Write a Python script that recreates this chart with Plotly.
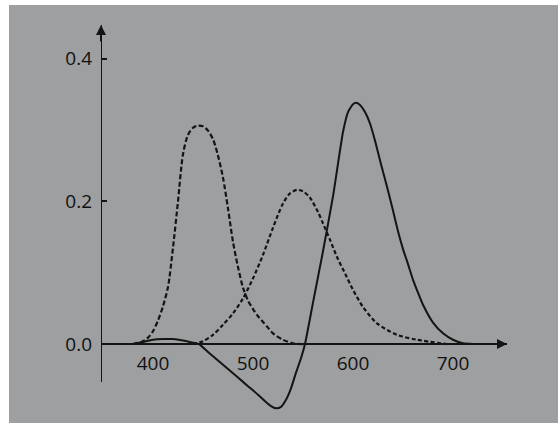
import plotly.graph_objects as go

# wavelength (nm) / tristimulus values
wl_b = [380, 390, 395, 400, 405, 410, 415, 420, 425, 430, 435, 440, 445, 450, 455, 460, 465, 470,
        475, 480, 485, 490, 495, 500, 505, 510, 515, 520, 530, 540, 550]
b_val = [0.0, 0.004, 0.009, 0.018, 0.033, 0.053, 0.08, 0.135, 0.2, 0.266, 0.293, 0.303, 0.306, 0.305,
         0.299, 0.287, 0.264, 0.233, 0.19, 0.143, 0.108, 0.079, 0.061, 0.049, 0.039, 0.031, 0.023,
         0.015, 0.006, 0.001, 0.0]

wl_g = [440, 450, 460, 470, 480, 490, 500, 510, 520, 530, 537, 544, 550, 557, 565, 570, 577, 584,
        592, 600, 610, 624, 644, 664, 694]
g_val = [0.0, 0.004, 0.013, 0.027, 0.043, 0.064, 0.092, 0.125, 0.163, 0.197, 0.211, 0.216, 0.214,
         0.205, 0.185, 0.169, 0.146, 0.122, 0.099, 0.076, 0.052, 0.029, 0.013, 0.006, 0.0]

wl_r = [380, 390, 400, 410, 420, 430, 440, 446, 455, 465, 475, 485, 495, 505, 512, 518, 523,
        528, 533, 538, 543, 548, 552, 560, 570, 580, 590, 595, 600, 603, 607, 612, 617, 622, 628,
        635, 640, 645, 650, 655, 660, 665, 670, 680, 690, 700, 710, 720]
r_val = [0.0, 0.003, 0.006, 0.007, 0.007, 0.005, 0.002, 0.0, -0.011, -0.023, -0.035, -0.047, -0.059,
         -0.071, -0.08, -0.087, -0.09, -0.088, -0.078, -0.062, -0.04, -0.02, 0.0, 0.058,
         0.13, 0.207, 0.297, 0.325, 0.336, 0.338, 0.335, 0.325, 0.309, 0.285, 0.252, 0.215, 0.187,
         0.158, 0.133, 0.112, 0.09, 0.072, 0.055, 0.03, 0.015, 0.006, 0.001, 0.0]

x_ticks = [400, 500, 600, 700]
y_ticks = [0.0, 0.2, 0.4]
y_tick_text = ["0.0", "0.2", "0.4"]

INK = "#141414"
BG = "#9d9fa0"

fig = go.Figure()
fig.add_trace(go.Scatter(x=wl_b, y=b_val, mode="lines", line=dict(color=INK, width=2.2, dash="5px,2.5px",
                         shape="spline", smoothing=0.8), hoverinfo="skip"))
fig.add_trace(go.Scatter(x=wl_g, y=g_val, mode="lines", line=dict(color=INK, width=2.2, dash="4px,2.5px",
                         shape="spline", smoothing=0.8), hoverinfo="skip"))
fig.add_trace(go.Scatter(x=wl_r, y=r_val, mode="lines", line=dict(color=INK, width=2.0,
                         shape="spline", smoothing=0.5), hoverinfo="skip"))

# plot area: 406 x 390 px, 100 nm = 100 px, 0.2 = 142.75 px
x_range = [348, 754]
y_top = 0.447
y_range = [y_top - 390 / 713.75, y_top]
y_axis_bottom = -0.0532
zero_pos = (0 - y_range[0]) / (y_range[1] - y_range[0])

fig.update_layout(
    width=558, height=423,
    margin=dict(l=101, r=51, t=25, b=8),
    paper_bgcolor="white",
    plot_bgcolor="rgba(0,0,0,0)",
    showlegend=False,
    font=dict(family="Open Sans", color="#111111", size=19),
    xaxis=dict(range=x_range, anchor="free", position=zero_pos, showline=True, linecolor=INK,
               linewidth=2, ticks="", tickvals=x_ticks, showgrid=False, zeroline=False,
               ticklabelstandoff=2, tickfont=dict(size=19)),
    yaxis=dict(range=y_range, showline=False, ticks="inside",
               ticklen=6, tickwidth=1.5, tickcolor=INK, tickvals=y_ticks, ticktext=y_tick_text,
               showgrid=False, zeroline=False, ticklabelstandoff=8, tickfont=dict(size=19)),
    shapes=[
        dict(type="rect", xref="paper", yref="paper", x0=(9 - 101) / 406, x1=(560 - 101) / 406,
             y0=-0.05, y1=1 + (25 - 5) / 390, fillcolor=BG, line=dict(width=0),
             layer="below"),
        dict(type="line", xref="x", yref="y", x0=x_range[0], x1=x_range[0],
             y0=y_axis_bottom, y1=y_top, line=dict(color=INK, width=2)),
    ],
    annotations=[
        dict(x=x_range[1], y=0, xref="x", yref="y", ax=-18, ay=0, text="", showarrow=True,
             arrowhead=2, arrowsize=1, arrowwidth=2, arrowcolor=INK),
        dict(x=x_range[0], y=y_top, xref="x", yref="y", ax=0, ay=18, text="", showarrow=True,
             arrowhead=2, arrowsize=1, arrowwidth=2, arrowcolor=INK),
    ],
)

fig.write_html("out.html")
